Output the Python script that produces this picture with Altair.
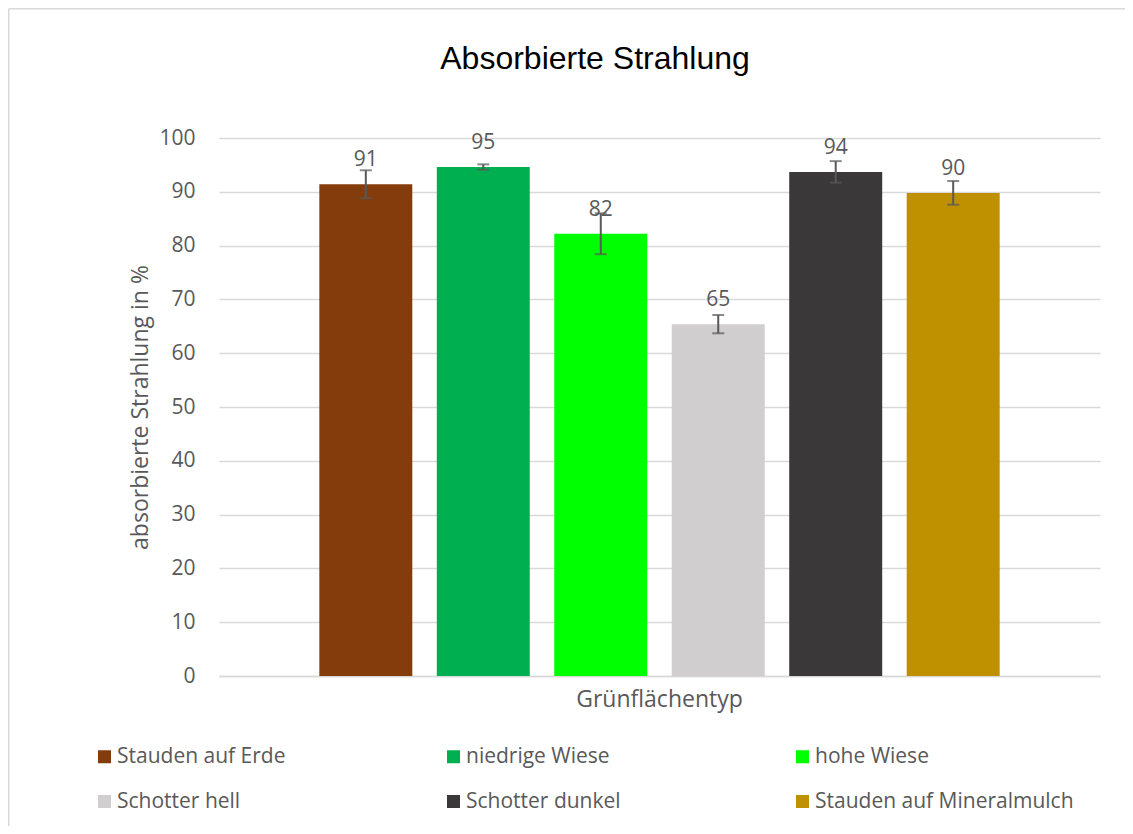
import altair as alt
import pandas as pd

# ---- data ----
title_text = "Absorbierte Strahlung"
category = "Grünflächentyp"
series = ["Stauden auf Erde", "niedrige Wiese", "hohe Wiese",
          "Schotter hell", "Schotter dunkel", "Stauden auf Mineralmulch"]
values = [91.4, 94.6, 82.2, 65.4, 93.7, 89.8]
errors = [2.6, 0.5, 3.8, 1.7, 2.0, 2.2]
colors = ["#843C0C", "#00B050", "#00FF00", "#D0CECE", "#3A3838", "#BF9000"]
y_ticks = [0, 10, 20, 30, 40, 50, 60, 70, 80, 90, 100]

df = pd.DataFrame({"cat": category, "series": series, "value": values, "err": errors})
df["lo"] = df["value"] - df["err"]
df["hi"] = df["value"] + df["err"]

FONT = "Open Sans"
TXT = "#595959"
GRID = "#D9D9D9"

x = alt.X("cat:N",
          scale=alt.Scale(paddingInner=0, paddingOuter=0.125),
          axis=alt.Axis(title=None, labelAngle=0, labelFontSize=23, labelColor=TXT,
                        labelFont=FONT, ticks=False, domainColor=GRID, domainWidth=1.5,
                        labelPadding=12))
xo = alt.XOffset("series:N", scale=alt.Scale(domain=series, paddingInner=0.2085, paddingOuter=0.104))
y = alt.Y("value:Q",
          scale=alt.Scale(domain=[0, 100], nice=False),
          axis=alt.Axis(values=y_ticks, title="absorbierte Strahlung in %", grid=True,
                        gridColor=GRID, gridWidth=1.5, domain=False, ticks=False,
                        labelPadding=24, labelFontSize=21, labelColor=TXT, labelFont=FONT,
                        titleFontSize=23, titleColor=TXT, titleFont=FONT, titleFontWeight="normal",
                        titleX=-79, titleY=269, titleAngle=270, titleAlign="center",
                        titleBaseline="middle"))

base = alt.Chart(df)

bars = base.mark_bar().encode(
    x=x, xOffset=xo, y=y,
    color=alt.Color("series:N", scale=alt.Scale(domain=series, range=colors),
                    legend=alt.Legend(title=None, orient="none", legendX=-125, legendY=608,
                                      direction="horizontal",
                                      columns=3, gridAlign="all", columnPadding=67,
                                      rowPadding=23, symbolType="square", symbolSize=169,
                                      symbolStrokeWidth=0, labelFontSize=21, labelColor=TXT,
                                      labelFont=FONT, labelOffset=2, labelLimit=400))
)

rule = base.mark_rule(color=TXT, strokeWidth=2).encode(
    x=x, xOffset=xo, y=alt.Y("lo:Q"), y2="hi:Q")
cap_lo = base.mark_tick(color=TXT, size=12, thickness=2).encode(x=x, xOffset=xo, y="lo:Q")
cap_hi = base.mark_tick(color=TXT, size=12, thickness=2).encode(x=x, xOffset=xo, y="hi:Q")

labels = base.mark_text(dy=-24, fontSize=21, color=TXT, font=FONT).encode(
    x=x, xOffset=xo, y="value:Q", text=alt.Text("value:Q", format=".0f"))

frame_df = pd.DataFrame({"b": [0]})
border_top = alt.Chart(frame_df).mark_rule(color=GRID, strokeWidth=1.5).encode(
    x=alt.value(-210.25), x2=alt.value(1000), y=alt.value(-129.25))
border_left = alt.Chart(frame_df).mark_rule(color=GRID, strokeWidth=1.5).encode(
    x=alt.value(-210.25), y=alt.value(-129.25), y2=alt.value(800))

title = alt.Chart(pd.DataFrame({"t": [title_text]})).mark_text(
    font="Liberation Sans", fontSize=32, color="#000000", align="center", baseline="middle").encode(
    text="t:N", x=alt.value(376), y=alt.value(-79))

chart = alt.layer(border_top, border_left, title, bars, rule, cap_lo, cap_hi, labels).properties(
    width=881, height=538,
    padding={"left": 211, "top": 130, "right": 25, "bottom": 150},
    autosize=alt.AutoSizeParams(type="none"),
).configure(font=FONT).configure_view(strokeWidth=0)

chart.save("out.html", embed_options={"renderer": "svg", "actions": False})
